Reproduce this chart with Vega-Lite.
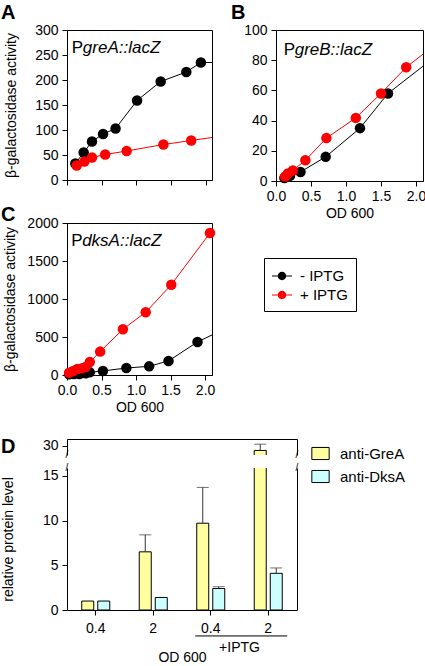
{
  "$schema": "https://vega.github.io/schema/vega-lite/v6.json",
  "padding": {"left": 0, "top": 2, "right": 0, "bottom": 0},
  "background": "white",
  "datasets": {
    "curves": [
      {"panel": "A", "cond": "- IPTG", "od": 0.12, "act": 33, "kind": "pt"},
      {"panel": "A", "cond": "- IPTG", "od": 0.24, "act": 55, "kind": "pt"},
      {"panel": "A", "cond": "- IPTG", "od": 0.36, "act": 77, "kind": "pt"},
      {"panel": "A", "cond": "- IPTG", "od": 0.52, "act": 92, "kind": "pt"},
      {"panel": "A", "cond": "- IPTG", "od": 0.70, "act": 103, "kind": "pt"},
      {"panel": "A", "cond": "- IPTG", "od": 1.01, "act": 159, "kind": "pt"},
      {"panel": "A", "cond": "- IPTG", "od": 1.35, "act": 197, "kind": "pt"},
      {"panel": "A", "cond": "- IPTG", "od": 1.72, "act": 216, "kind": "pt"},
      {"panel": "A", "cond": "- IPTG", "od": 1.93, "act": 235, "kind": "pt"},
      {"panel": "A", "cond": "- IPTG", "od": 2.09, "act": 235, "kind": "edge"},
      {"panel": "A", "cond": "+ IPTG", "od": 0.14, "act": 29, "kind": "pt"},
      {"panel": "A", "cond": "+ IPTG", "od": 0.25, "act": 37, "kind": "pt"},
      {"panel": "A", "cond": "+ IPTG", "od": 0.36, "act": 45, "kind": "pt"},
      {"panel": "A", "cond": "+ IPTG", "od": 0.55, "act": 51, "kind": "pt"},
      {"panel": "A", "cond": "+ IPTG", "od": 0.86, "act": 58, "kind": "pt"},
      {"panel": "A", "cond": "+ IPTG", "od": 1.39, "act": 71, "kind": "pt"},
      {"panel": "A", "cond": "+ IPTG", "od": 1.79, "act": 79, "kind": "pt"},
      {"panel": "A", "cond": "+ IPTG", "od": 2.09, "act": 85, "kind": "edge"},
      {"panel": "B", "cond": "- IPTG", "od": 0.12, "act": 2, "kind": "pt"},
      {"panel": "B", "cond": "- IPTG", "od": 0.20, "act": 3.5, "kind": "pt"},
      {"panel": "B", "cond": "- IPTG", "od": 0.35, "act": 6, "kind": "pt"},
      {"panel": "B", "cond": "- IPTG", "od": 0.71, "act": 16, "kind": "pt"},
      {"panel": "B", "cond": "- IPTG", "od": 1.20, "act": 35, "kind": "pt"},
      {"panel": "B", "cond": "- IPTG", "od": 1.60, "act": 58, "kind": "pt"},
      {"panel": "B", "cond": "- IPTG", "od": 2.10, "act": 76, "kind": "edge"},
      {"panel": "B", "cond": "+ IPTG", "od": 0.13, "act": 3, "kind": "pt"},
      {"panel": "B", "cond": "+ IPTG", "od": 0.17, "act": 5, "kind": "pt"},
      {"panel": "B", "cond": "+ IPTG", "od": 0.24, "act": 7, "kind": "pt"},
      {"panel": "B", "cond": "+ IPTG", "od": 0.42, "act": 13.7, "kind": "pt"},
      {"panel": "B", "cond": "+ IPTG", "od": 0.72, "act": 28.4, "kind": "pt"},
      {"panel": "B", "cond": "+ IPTG", "od": 1.14, "act": 41.8, "kind": "pt"},
      {"panel": "B", "cond": "+ IPTG", "od": 1.50, "act": 58, "kind": "pt"},
      {"panel": "B", "cond": "+ IPTG", "od": 1.86, "act": 75.3, "kind": "pt"},
      {"panel": "B", "cond": "+ IPTG", "od": 2.10, "act": 84, "kind": "edge"},
      {"panel": "C", "cond": "- IPTG", "od": 0.03, "act": 9, "kind": "pt"},
      {"panel": "C", "cond": "- IPTG", "od": 0.10, "act": 13, "kind": "pt"},
      {"panel": "C", "cond": "- IPTG", "od": 0.18, "act": 13, "kind": "pt"},
      {"panel": "C", "cond": "- IPTG", "od": 0.27, "act": 22, "kind": "pt"},
      {"panel": "C", "cond": "- IPTG", "od": 0.33, "act": 35, "kind": "pt"},
      {"panel": "C", "cond": "- IPTG", "od": 0.52, "act": 53, "kind": "pt"},
      {"panel": "C", "cond": "- IPTG", "od": 0.86, "act": 92, "kind": "pt"},
      {"panel": "C", "cond": "- IPTG", "od": 1.19, "act": 114, "kind": "pt"},
      {"panel": "C", "cond": "- IPTG", "od": 1.47, "act": 185, "kind": "pt"},
      {"panel": "C", "cond": "- IPTG", "od": 1.89, "act": 435, "kind": "pt"},
      {"panel": "C", "cond": "- IPTG", "od": 2.10, "act": 527, "kind": "edge"},
      {"panel": "C", "cond": "+ IPTG", "od": 0.03, "act": 30, "kind": "pt"},
      {"panel": "C", "cond": "+ IPTG", "od": 0.09, "act": 53, "kind": "pt"},
      {"panel": "C", "cond": "+ IPTG", "od": 0.15, "act": 79, "kind": "pt"},
      {"panel": "C", "cond": "+ IPTG", "od": 0.22, "act": 88, "kind": "pt"},
      {"panel": "C", "cond": "+ IPTG", "od": 0.27, "act": 105, "kind": "pt"},
      {"panel": "C", "cond": "+ IPTG", "od": 0.33, "act": 171, "kind": "pt"},
      {"panel": "C", "cond": "+ IPTG", "od": 0.48, "act": 308, "kind": "pt"},
      {"panel": "C", "cond": "+ IPTG", "od": 0.81, "act": 602, "kind": "pt"},
      {"panel": "C", "cond": "+ IPTG", "od": 1.14, "act": 826, "kind": "pt"},
      {"panel": "C", "cond": "+ IPTG", "od": 1.51, "act": 1187, "kind": "pt"},
      {"panel": "C", "cond": "+ IPTG", "od": 2.07, "act": 1868, "kind": "pt"},
      {"panel": "C", "cond": "+ IPTG", "od": 2.10, "act": 1890, "kind": "edge"}
    ],
    "labels": [
      {"panel": "A", "pre": "P", "gene": "greA::lacZ"},
      {"panel": "B", "pre": "P", "gene": "greB::lacZ"},
      {"panel": "C", "pre": "P", "gene": "dksA::lacZ"}
    ],
    "protein": [
      {"grp": "0.4", "ab": "anti-GreA", "val": 1.0, "err": null},
      {"grp": "0.4", "ab": "anti-DksA", "val": 1.0, "err": null},
      {"grp": "2", "ab": "anti-GreA", "val": 6.5, "err": 8.4},
      {"grp": "2", "ab": "anti-DksA", "val": 1.4, "err": null},
      {"grp": "0.4 +IPTG", "ab": "anti-GreA", "val": 9.7, "err": 13.7},
      {"grp": "0.4 +IPTG", "ab": "anti-DksA", "val": 2.4, "err": 2.6},
      {"grp": "2 +IPTG", "ab": "anti-GreA", "val": 29.5, "err": 30.2},
      {"grp": "2 +IPTG", "ab": "anti-DksA", "val": 4.1, "err": 4.7}
    ],
    "iptg": [{"t": "+IPTG"}],
    "brk": [{"s": "/"}]
  },
  "config": {
    "font": "Liberation Sans",
    "view": {"stroke": "#000", "strokeWidth": 1},
    "axis": {
      "grid": false, "labelFontSize": 14, "titleFontSize": 14, "titleFontWeight": "normal",
      "labelColor": "#000", "titleColor": "#000", "domainColor": "#000", "tickColor": "#000",
      "tickSize": 5, "labelPadding": 4, "labelFont": "Liberation Sans", "titleFont": "Liberation Sans",
      "labelOverlap": false, "labelFlush": false
    },
    "title": {"fontSize": 20, "fontWeight": "bold", "anchor": "start", "frame": "group", "color": "#000", "font": "Liberation Sans"},
    "legend": {"labelFontSize": 15, "labelColor": "#000", "labelFont": "Liberation Sans"}
  },
  "vconcat": [
    {
      "vconcat": [
        {
          "hconcat": [
            {
              "title": {"text": "A", "offset": 0, "dx": -66},
              "width": 145, "height": 150,
              "data": {"name": "curves"},
              "transform": [{"filter": "datum.panel === 'A'"}],
              "layer": [
                {
                  "mark": {"type": "line", "strokeWidth": 1, "clip": true},
                  "encoding": {
                    "x": {"field": "od", "type": "quantitative", "scale": {"domain": [0, 2.09], "nice": false},
                          "axis": {"values": [0, 0.5, 1, 1.5, 2], "labels": false, "title": null}},
                    "y": {"field": "act", "type": "quantitative", "scale": {"domain": [0, 300], "nice": false},
                          "axis": {"values": [0, 50, 100, 150, 200, 250, 300], "title": "β-galactosidase activity", "titlePadding": 16}},
                    "color": {"field": "cond", "type": "nominal", "scale": {"domain": ["- IPTG", "+ IPTG"], "range": ["#000000", "#ff0000"]}},
                    "order": {"field": "od", "type": "quantitative"}
                  }
                },
                {
                  "transform": [{"filter": "datum.kind === 'pt'"}],
                  "mark": {"type": "point", "filled": true, "size": 110, "opacity": 1, "shape": "circle"},
                  "encoding": {
                    "x": {"field": "od", "type": "quantitative", "axis": {"values": [0, 0.5, 1, 1.5, 2], "labels": false, "title": null}},
                    "y": {"field": "act", "type": "quantitative", "axis": {"values": [0, 50, 100, 150, 200, 250, 300], "title": "β-galactosidase activity", "titlePadding": 16}},
                    "color": {"field": "cond", "type": "nominal"}
                  }
                },
                {
                  "data": {"name": "labels"},
                  "transform": [{"filter": "datum.panel === 'A'"}],
                  "mark": {"type": "text", "align": "left", "baseline": "middle", "fontSize": 17, "color": "#000"},
                  "encoding": {
                    "x": {"datum": 0.07, "axis": {"values": [0, 0.5, 1, 1.5, 2], "labels": false, "title": null}},
                    "y": {"datum": 264, "axis": {"values": [0, 50, 100, 150, 200, 250, 300], "title": "β-galactosidase activity", "titlePadding": 16}},
                    "text": {"field": "pre"}}
                },
                {
                  "data": {"name": "labels"},
                  "transform": [{"filter": "datum.panel === 'A'"}],
                  "mark": {"type": "text", "align": "left", "baseline": "middle", "fontSize": 17, "fontStyle": "italic", "dx": 11, "color": "#000"},
                  "encoding": {
                    "x": {"datum": 0.07, "axis": {"values": [0, 0.5, 1, 1.5, 2], "labels": false, "title": null}},
                    "y": {"datum": 264, "axis": {"values": [0, 50, 100, 150, 200, 250, 300], "title": "β-galactosidase activity", "titlePadding": 16}},
                    "text": {"field": "gene"}}
                }
              ]
            },
            {
              "title": {"text": "B", "offset": 0, "dx": -45},
              "width": 147, "height": 151,
              "data": {"name": "curves"},
              "transform": [{"filter": "datum.panel === 'B'"}],
              "layer": [
                {
                  "mark": {"type": "line", "strokeWidth": 1, "clip": true},
                  "encoding": {
                    "x": {"field": "od", "type": "quantitative", "scale": {"domain": [0, 2.1], "nice": false},
                          "axis": {"values": [0, 0.5, 1, 1.5, 2], "format": ".1f", "title": "OD 600", "titlePadding": 3, "labelPadding": 3}},
                    "y": {"field": "act", "type": "quantitative", "scale": {"domain": [0, 100], "nice": false},
                          "axis": {"values": [0, 20, 40, 60, 80, 100], "title": null}},
                    "color": {"field": "cond", "type": "nominal"},
                    "order": {"field": "od", "type": "quantitative"}
                  }
                },
                {
                  "transform": [{"filter": "datum.kind === 'pt'"}],
                  "mark": {"type": "point", "filled": true, "size": 110, "opacity": 1, "shape": "circle"},
                  "encoding": {
                    "x": {"field": "od", "type": "quantitative", "axis": {"values": [0, 0.5, 1, 1.5, 2], "format": ".1f", "title": "OD 600", "titlePadding": 3, "labelPadding": 3}},
                    "y": {"field": "act", "type": "quantitative", "axis": {"values": [0, 20, 40, 60, 80, 100], "title": null}},
                    "color": {"field": "cond", "type": "nominal"}
                  }
                },
                {
                  "data": {"name": "labels"},
                  "transform": [{"filter": "datum.panel === 'B'"}],
                  "mark": {"type": "text", "align": "left", "baseline": "middle", "fontSize": 17, "color": "#000"},
                  "encoding": {
                    "x": {"datum": 0.11, "axis": {"values": [0, 0.5, 1, 1.5, 2], "format": ".1f", "title": "OD 600", "titlePadding": 3, "labelPadding": 3}},
                    "y": {"datum": 86.5, "axis": {"values": [0, 20, 40, 60, 80, 100], "title": null}},
                    "text": {"field": "pre"}}
                },
                {
                  "data": {"name": "labels"},
                  "transform": [{"filter": "datum.panel === 'B'"}],
                  "mark": {"type": "text", "align": "left", "baseline": "middle", "fontSize": 17, "fontStyle": "italic", "dx": 11, "color": "#000"},
                  "encoding": {
                    "x": {"datum": 0.11, "axis": {"values": [0, 0.5, 1, 1.5, 2], "format": ".1f", "title": "OD 600", "titlePadding": 3, "labelPadding": 3}},
                    "y": {"datum": 86.5, "axis": {"values": [0, 20, 40, 60, 80, 100], "title": null}},
                    "text": {"field": "gene"}}
                }
              ]
            }
          ],
          "spacing": 17,
          "align": "none"
        },
        {
          "title": {"text": "C", "offset": -9, "dx": -66},
          "width": 145, "height": 152,
          "data": {"name": "curves"},
          "transform": [{"filter": "datum.panel === 'C'"}],
          "layer": [
            {
              "mark": {"type": "line", "strokeWidth": 1, "clip": true},
              "encoding": {
                "x": {"field": "od", "type": "quantitative", "scale": {"domain": [0, 2.1], "nice": false},
                      "axis": {"values": [0, 0.5, 1, 1.5, 2], "format": ".1f", "title": "OD 600", "titlePadding": 3, "labelPadding": 3}},
                "y": {"field": "act", "type": "quantitative", "scale": {"domain": [0, 2000], "nice": false},
                      "axis": {"values": [0, 500, 1000, 1500, 2000], "format": "d", "title": "β-galactosidase activity", "titlePadding": 9}},
                "color": {"field": "cond", "type": "nominal",
                  "legend": {
                    "orient": "none", "legendX": 197, "legendY": 228, "title": null,
                    "strokeColor": "#000", "padding": 8, "rowPadding": 1,
                    "symbolType": "M-1,-0.06L1,-0.06L1,0.06L-1,0.06Z M0.42,0 A0.42,0.42 0 1 1 -0.42,0 A0.42,0.42 0 1 1 0.42,0 Z",
                    "symbolSize": 400, "symbolStrokeWidth": 0, "labelOffset": 8
                  }},
                "order": {"field": "od", "type": "quantitative"}
              }
            },
            {
              "transform": [{"filter": "datum.kind === 'pt'"}],
              "mark": {"type": "point", "filled": true, "size": 110, "opacity": 1, "shape": "circle"},
              "encoding": {
                "x": {"field": "od", "type": "quantitative", "axis": {"values": [0, 0.5, 1, 1.5, 2], "format": ".1f", "title": "OD 600", "titlePadding": 3, "labelPadding": 3}},
                "y": {"field": "act", "type": "quantitative", "axis": {"values": [0, 500, 1000, 1500, 2000], "format": "d", "title": "β-galactosidase activity", "titlePadding": 9}},
                "color": {"field": "cond", "type": "nominal"}
              }
            },
            {
              "data": {"name": "labels"},
              "transform": [{"filter": "datum.panel === 'C'"}],
              "mark": {"type": "text", "align": "left", "baseline": "middle", "fontSize": 17, "color": "#000"},
              "encoding": {
                "x": {"datum": 0.06, "axis": {"values": [0, 0.5, 1, 1.5, 2], "format": ".1f", "title": "OD 600", "titlePadding": 3, "labelPadding": 3}},
                "y": {"datum": 1760, "axis": {"values": [0, 500, 1000, 1500, 2000], "format": "d", "title": "β-galactosidase activity", "titlePadding": 9}},
                "text": {"field": "pre"}}
            },
            {
              "data": {"name": "labels"},
              "transform": [{"filter": "datum.panel === 'C'"}],
              "mark": {"type": "text", "align": "left", "baseline": "middle", "fontSize": 17, "fontStyle": "italic", "dx": 11, "color": "#000"},
              "encoding": {
                "x": {"datum": 0.06, "axis": {"values": [0, 0.5, 1, 1.5, 2], "format": ".1f", "title": "OD 600", "titlePadding": 3, "labelPadding": 3}},
                "y": {"datum": 1760, "axis": {"values": [0, 500, 1000, 1500, 2000], "format": "d", "title": "β-galactosidase activity", "titlePadding": 9}},
                "text": {"field": "gene"}}
            }
          ]
        }
      ],
      "spacing": -17,
      "align": "none"
    },
    {
      "vconcat": [
        {
          "title": {"text": "D", "offset": 0, "dx": -66, "dy": 18},
          "width": 230, "height": 16,
          "view": {"stroke": null},
          "data": {"name": "protein"},
          "encoding": {
            "x": {"field": "grp", "type": "nominal", "sort": ["0.4", "2", "0.4 +IPTG", "2 +IPTG"],
                  "scale": {"paddingInner": 0, "paddingOuter": 0},
                  "axis": {"orient": "top", "labels": false, "ticks": false, "title": null}}
          },
          "layer": [
            {
              "mark": {"type": "bar", "stroke": "#000", "strokeWidth": 1, "clip": true},
              "encoding": {
                "xOffset": {"field": "ab", "type": "nominal", "sort": ["anti-GreA", "anti-DksA"], "scale": {"paddingInner": 0.25, "paddingOuter": 0.92}},
                "y": {"field": "val", "type": "quantitative", "scale": {"domain": [28.99, 30.78], "nice": false, "zero": false},
                      "axis": {"values": [30], "title": null}},
                "fill": {"field": "ab", "type": "nominal", "scale": {"domain": ["anti-GreA", "anti-DksA"], "range": ["#ffffa0", "#ccffff"]}}
              }
            },
            {
              "mark": {"type": "rule", "color": "#333", "strokeWidth": 1, "clip": true},
              "encoding": {
                "xOffset": {"field": "ab", "type": "nominal", "sort": ["anti-GreA", "anti-DksA"]},
                "y": {"field": "val", "type": "quantitative", "axis": null}, "y2": {"field": "err"}}
            },
            {
              "transform": [{"filter": "datum.err != null"}],
              "mark": {"type": "tick", "color": "#333", "thickness": 1, "size": 12, "clip": true},
              "encoding": {
                "xOffset": {"field": "ab", "type": "nominal", "sort": ["anti-GreA", "anti-DksA"]},
                "y": {"field": "err", "type": "quantitative", "axis": null}}
            },
            {
              "mark": {"type": "rule", "opacity": 0, "clip": true},
              "encoding": {"y": {"field": "val", "type": "quantitative", "axis": {"orient": "right", "labels": false, "ticks": false, "title": null}}}
            },
            {
              "data": {"name": "brk"},
              "mark": {"type": "text", "fontSize": 10, "baseline": "middle", "align": "center", "color": "#000", "clip": false},
              "encoding": {"x": {"datum": "0.4", "bandPosition": 0}, "y": {"datum": 28.99, "axis": null}, "text": {"field": "s"}}
            },
            {
              "data": {"name": "brk"},
              "mark": {"type": "text", "fontSize": 10, "baseline": "middle", "align": "center", "color": "#000", "clip": false},
              "encoding": {"x": {"datum": "2 +IPTG", "bandPosition": 1}, "y": {"datum": 28.99, "axis": null}, "text": {"field": "s"}}
            }
          ],
          "resolve": {"axis": {"y": "independent"}}
        },
        {
          "width": 230, "height": 142,
          "view": {"stroke": null},
          "data": {"name": "protein"},
          "encoding": {
            "x": {"field": "grp", "type": "nominal", "sort": ["0.4", "2", "0.4 +IPTG", "2 +IPTG"],
                  "scale": {"paddingInner": 0, "paddingOuter": 0},
                  "axis": {"labelAngle": 0, "labelExpr": "split(datum.label, ' ')[0]", "title": "OD 600", "titlePadding": 15, "labelPadding": 6}}
          },
          "layer": [
            {
              "mark": {"type": "bar", "stroke": "#000", "strokeWidth": 1, "clip": true},
              "encoding": {
                "xOffset": {"field": "ab", "type": "nominal", "sort": ["anti-GreA", "anti-DksA"], "scale": {"paddingInner": 0.25, "paddingOuter": 0.92}},
                "y": {"field": "val", "type": "quantitative", "scale": {"domain": [0, 15.87], "nice": false},
                      "axis": {"values": [0, 5, 10, 15], "title": "relative protein level", "titlePadding": 27}},
                "fill": {"field": "ab", "type": "nominal",
                  "legend": {
                    "orient": "none", "legendX": 244, "legendY": 414, "title": null, "padding": 0,
                    "symbolType": "M-1,-0.7L1,-0.7L1,0.7L-1,0.7Z", "symbolSize": 300,
                    "symbolStrokeColor": "#000", "symbolStrokeWidth": 1, "rowPadding": 5, "labelOffset": 10
                  }}
              }
            },
            {
              "mark": {"type": "rule", "color": "#333", "strokeWidth": 1, "clip": true},
              "encoding": {
                "xOffset": {"field": "ab", "type": "nominal", "sort": ["anti-GreA", "anti-DksA"]},
                "y": {"field": "val", "type": "quantitative", "axis": null}, "y2": {"field": "err"}}
            },
            {
              "transform": [{"filter": "datum.err != null"}],
              "mark": {"type": "tick", "color": "#333", "thickness": 1, "size": 12, "clip": true},
              "encoding": {
                "xOffset": {"field": "ab", "type": "nominal", "sort": ["anti-GreA", "anti-DksA"]},
                "y": {"field": "err", "type": "quantitative", "axis": null}}
            },
            {
              "mark": {"type": "rule", "opacity": 0, "clip": true},
              "encoding": {"y": {"field": "val", "type": "quantitative", "axis": {"orient": "right", "labels": false, "ticks": false, "title": null}}}
            },
            {
              "data": {"name": "brk"},
              "mark": {"type": "text", "fontSize": 10, "baseline": "middle", "align": "center", "color": "#000", "clip": false},
              "encoding": {"x": {"datum": "0.4", "bandPosition": 0}, "y": {"datum": 15.87, "axis": null}, "text": {"field": "s"}}
            },
            {
              "data": {"name": "brk"},
              "mark": {"type": "text", "fontSize": 10, "baseline": "middle", "align": "center", "color": "#000", "clip": false},
              "encoding": {"x": {"datum": "2 +IPTG", "bandPosition": 1}, "y": {"datum": 15.87, "axis": null}, "text": {"field": "s"}}
            },
            {
              "data": {"name": "iptg"},
              "mark": {"type": "rule", "color": "#000", "strokeWidth": 1, "clip": false},
              "encoding": {
                "x": {"datum": "0.4 +IPTG", "bandPosition": 0.23},
                "x2": {"datum": "2 +IPTG", "bandPosition": 0.83},
                "y": {"datum": -2.9, "axis": null}
              }
            },
            {
              "data": {"name": "iptg"},
              "mark": {"type": "text", "fontSize": 14, "baseline": "middle", "align": "center", "color": "#000", "clip": false},
              "encoding": {
                "x": {"datum": "2 +IPTG", "bandPosition": 0},
                "y": {"datum": -4.2, "axis": null},
                "text": {"field": "t"}
              }
            }
          ],
          "resolve": {"axis": {"y": "independent"}}
        }
      ],
      "spacing": 3,
      "align": "none"
    }
  ],
  "spacing": 21,
  "align": "none"
}
